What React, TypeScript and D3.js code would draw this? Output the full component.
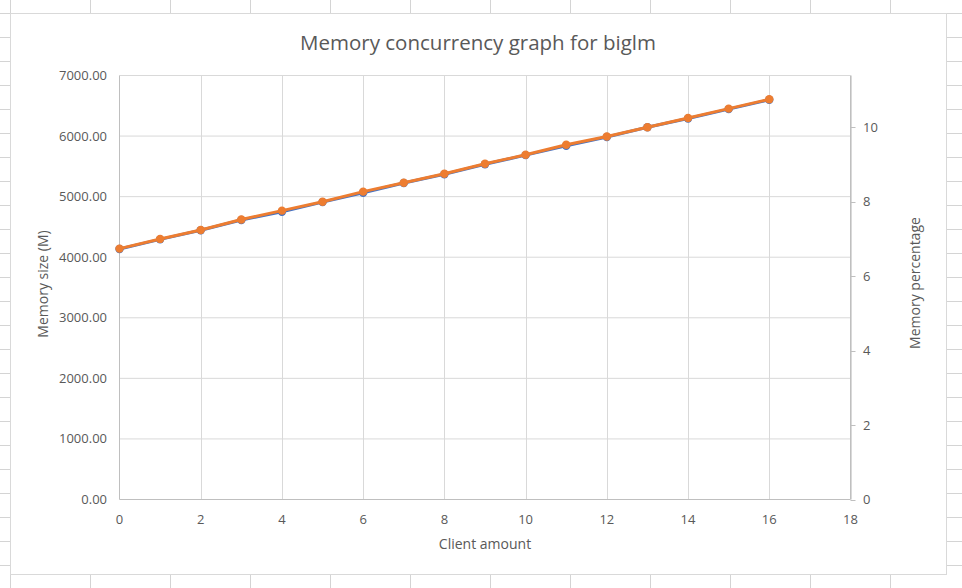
import React from "react";
import * as d3 from "d3";

const clients = [0, 1, 2, 3, 4, 5, 6, 7, 8, 9, 10, 11, 12, 13, 14, 15, 16];
const memorySizeMB = [4135, 4295, 4445, 4615, 4750, 4910, 5065, 5225, 5370, 5535, 5685, 5840, 5985, 6145, 6290, 6445, 6600];
const memoryPercent = [6.74, 7.0, 7.24, 7.52, 7.76, 8.0, 8.27, 8.51, 8.75, 9.02, 9.26, 9.53, 9.75, 10.0, 10.25, 10.5, 10.75];
const xTicks = [0, 2, 4, 6, 8, 10, 12, 14, 16, 18];
const leftTicks = [0, 1000, 2000, 3000, 4000, 5000, 6000, 7000];
const rightTicks = [0, 2, 4, 6, 8, 10];
const title = "Memory concurrency graph for biglm";
const xTitle = "Client amount";
const leftTitle = "Memory size (M)";
const rightTitle = "Memory percentage";

const W = 962;
const H = 588;
const FONT = "'Open Sans', 'Noto Sans', sans-serif";
const TXT = "#595959";
const GRID = "#D9D9D9";
const CELL = "#D4D4D4";
const BLUE = "#4472C4";
const ORANGE = "#ED7D31";

export default function App() {
  const x = d3.scaleLinear().domain([0, 18]).range([119.5, 850.5]);
  const yL = d3.scaleLinear().domain([0, 7000]).range([499.5, 75.5]);
  const yR = d3.scaleLinear().domain([0, 11.39]).range([499.5, 75.5]);

  const lineL = d3.line<number>().x((_, i) => x(clients[i])).y((d) => yL(d));
  const lineR = d3.line<number>().x((_, i) => x(clients[i])).y((d) => yR(d));

  const colLines = d3.range(10.5, W + 80, 80);
  const rowLines = d3.range(13.5, H + 24, 24);

  const box = { x0: 10.5, y0: 13.5, x1: 946.5, y1: 574.5 };

  return (
    <svg
      width={W}
      height={H}
      style={{ position: "absolute", left: 0, top: 0, background: "#fff" }}
    >
      {colLines.map((cx) => (
        <line key={"c" + cx} x1={cx} x2={cx} y1={0} y2={H} stroke={CELL} strokeWidth={1} />
      ))}
      {rowLines.map((ry) => (
        <line key={"r" + ry} x1={0} x2={W} y1={ry} y2={ry} stroke={CELL} strokeWidth={1} />
      ))}
      <rect
        x={box.x0}
        y={box.y0}
        width={box.x1 - box.x0}
        height={box.y1 - box.y0}
        fill="#fff"
        stroke={GRID}
        strokeWidth={1}
      />
      {leftTicks.slice(1).map((t) => (
        <line key={"hg" + t} x1={x(0)} x2={x(18)} y1={yL(t)} y2={yL(t)} stroke={GRID} strokeWidth={1} />
      ))}
      {xTicks.slice(1).map((t) => (
        <line key={"vg" + t} x1={Math.round(x(t)) + 0.5} x2={Math.round(x(t)) + 0.5} y1={yL(0)} y2={yL(7000)} stroke={GRID} strokeWidth={1} />
      ))}
      <line x1={x(0)} x2={x(0)} y1={yL(0)} y2={yL(7000)} stroke="#BFBFBF" strokeWidth={1} />
      <line x1={x(0)} x2={x(18)} y1={yL(0)} y2={yL(0)} stroke="#BFBFBF" strokeWidth={1} />
      <line x1={x(18)} x2={x(18)} y1={yR(0)} y2={yR(11.39)} stroke="#BFBFBF" strokeWidth={1} />
      {rightTicks.map((t) => (
        <line key={"rt" + t} x1={x(18)} x2={x(18) + 5} y1={Math.round(yR(t)) + 0.5} y2={Math.round(yR(t)) + 0.5} stroke="#BFBFBF" strokeWidth={1} />
      ))}
      {leftTicks.map((t) => (
        <text key={"lt" + t} x={107} y={yL(t)} dy="0.35em" textAnchor="end" fontFamily={FONT} fontSize={13} fill={TXT}>
          {t.toFixed(2)}
        </text>
      ))}
      {rightTicks.map((t) => (
        <text key={"rl" + t} x={863} y={yR(t)} dy="0.35em" textAnchor="start" fontFamily={FONT} fontSize={13} fill={TXT}>
          {t}
        </text>
      ))}
      {xTicks.map((t) => (
        <text key={"xl" + t} x={x(t)} y={524} textAnchor="middle" fontFamily={FONT} fontSize={13} fill={TXT}>
          {t}
        </text>
      ))}
      <text x={478} y={50} textAnchor="middle" fontFamily={FONT} fontSize={20.5} fill={TXT}>
        {title}
      </text>
      <text x={485} y={549} textAnchor="middle" fontFamily={FONT} fontSize={14} fill={TXT}>
        {xTitle}
      </text>
      <text
        transform={`translate(48,${284}) rotate(-90)`}
        textAnchor="middle"
        fontFamily={FONT}
        fontSize={14}
        fill={TXT}
      >
        {leftTitle}
      </text>
      <text
        transform={`translate(920,${283}) rotate(-90)`}
        textAnchor="middle"
        fontFamily={FONT}
        fontSize={14}
        fill={TXT}
      >
        {rightTitle}
      </text>
      <path d={lineL(memorySizeMB) || ""} fill="none" stroke={BLUE} strokeWidth={3} strokeLinejoin="round" />
      {memorySizeMB.map((v, i) => (
        <circle key={"b" + i} cx={x(clients[i])} cy={yL(v)} r={4.2} fill={BLUE} />
      ))}
      <path d={lineR(memoryPercent) || ""} fill="none" stroke={ORANGE} strokeWidth={3} strokeLinejoin="round" />
      {memoryPercent.map((v, i) => (
        <circle key={"o" + i} cx={x(clients[i])} cy={yR(v)} r={4.2} fill={ORANGE} />
      ))}
    </svg>
  );
}
